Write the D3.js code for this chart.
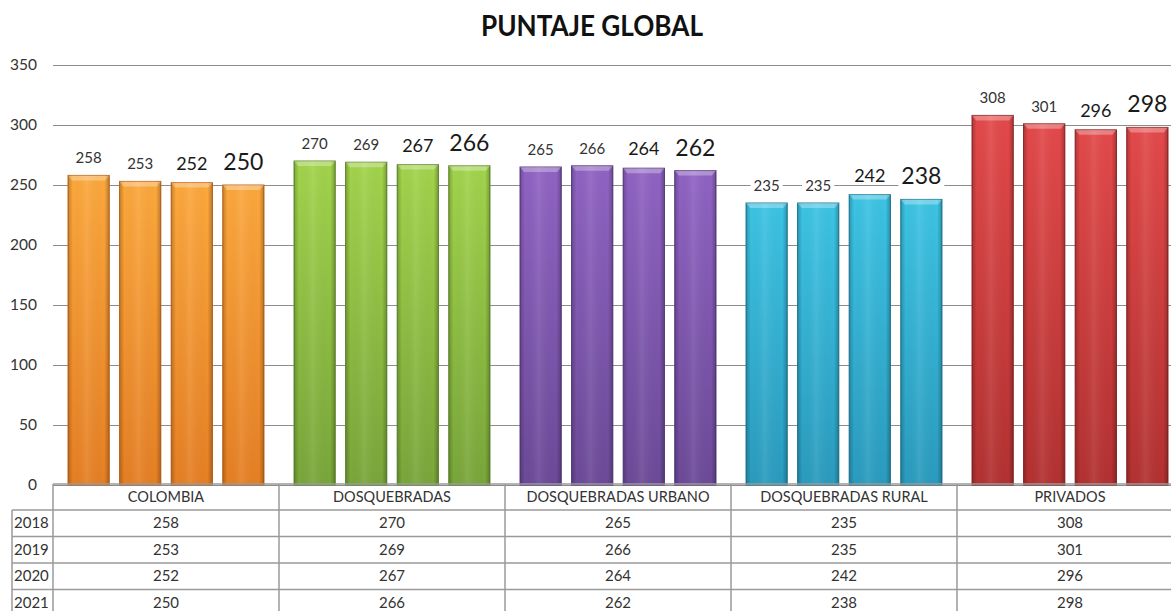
<!DOCTYPE html>
<html>
<head>
  <meta charset="utf-8">
  <title>Puntaje Global</title>
  <style>
    body { margin: 0; background: #fff; }
    svg { display: block; font-family: Lato, "Open Sans", sans-serif; }
  </style>
</head>
<body>
  <div class="area"></div>

  <script src="https://cdn.jsdelivr.net/npm/d3@7"></script>
  <script type="text/javascript">

  var w = 1171, h = 611;

  // data
  var categories = ['COLOMBIA', 'DOSQUEBRADAS', 'DOSQUEBRADAS URBANO', 'DOSQUEBRADAS RURAL', 'PRIVADOS'];
  var years = ['2018', '2019', '2020', '2021'];
  var colombia      = [258, 253, 252, 250];
  var dosquebradas  = [270, 269, 267, 266];
  var dosqUrbano    = [265, 266, 264, 262];
  var dosqRural     = [235, 235, 242, 238];
  var privados      = [308, 301, 296, 298];
  var yTicks = [0, 50, 100, 150, 200, 250, 300, 350];

  var series = [colombia, dosquebradas, dosqUrbano, dosqRural, privados];

  // colour per category: top, bottom, edge
  var colors = [
    ['#fca83c', '#e67f24', '#c76a1b'],
    ['#a2d44b', '#79a63a', '#67902f'],
    ['#9063c4', '#6c4a98', '#5a3e82'],
    ['#3cc4e4', '#2a9bbe', '#22819e'],
    ['#e4494a', '#b33131', '#932727']
  ];

  // label sizes grow with the year, as in the original
  var labelSize = [15, 15, 18, 23];
  var labelGap  = [12, 12, 13, 15];

  var svg = d3.select('.area')
    .append('svg')
    .attr('width', w)
    .attr('height', h);

  var left = 53, bandW = 226;
  var y = d3.scaleLinear().domain([0, 350]).range([485, 65]);
  var x0 = d3.scaleBand().domain(categories).range([left, left + bandW * categories.length]);
  var x1 = d3.scaleBand().domain(years).range([15, 211]).paddingInner(0.2);

  // gradients
  var defs = svg.append('defs');
  colors.forEach(function(c, i){
    var g = defs.append('linearGradient').attr('id', 'v' + i)
      .attr('x1', 0).attr('y1', 0).attr('x2', 0).attr('y2', 1);
    g.append('stop').attr('offset', '0%').attr('stop-color', c[0]);
    g.append('stop').attr('offset', '100%').attr('stop-color', c[1]);
  });
  var sh = defs.append('linearGradient').attr('id', 'shade')
    .attr('x1', 0).attr('y1', 0).attr('x2', 1).attr('y2', 0);
  sh.append('stop').attr('offset', '0%').attr('stop-color', '#000').attr('stop-opacity', 0.22);
  sh.append('stop').attr('offset', '12%').attr('stop-color', '#000').attr('stop-opacity', 0.0);
  sh.append('stop').attr('offset', '45%').attr('stop-color', '#fff').attr('stop-opacity', 0.08);
  sh.append('stop').attr('offset', '88%').attr('stop-color', '#000').attr('stop-opacity', 0.0);
  sh.append('stop').attr('offset', '100%').attr('stop-color', '#000').attr('stop-opacity', 0.25);

  // title
  svg.append('text')
    .attr('x', 592).attr('y', 36)
    .attr('text-anchor', 'middle')
    .attr('font-size', 28).attr('font-weight', 'bold')
    .attr('textLength', 222).attr('lengthAdjust', 'spacingAndGlyphs')
    .attr('fill', '#111')
    .text('PUNTAJE GLOBAL');

  // grid + y axis
  var yAxis = d3.axisLeft(y).tickValues(yTicks).tickSize(-(w - left)).tickPadding(16);
  var ga = svg.append('g').attr('transform', 'translate(' + left + ',0)').call(yAxis);
  ga.select('.domain').remove();
  ga.selectAll('.tick line').attr('stroke', '#8c8c8c').attr('stroke-width', 1.2);
  ga.selectAll('.tick text').attr('fill', '#333').attr('font-size', 15.5)
    .attr('font-family', 'Lato, sans-serif');

  // bars
  var groups = svg.selectAll('g.cat')
    .data(categories)
    .enter().append('g')
    .attr('class', 'cat')
    .attr('transform', function(d){ return 'translate(' + x0(d) + ',0)'; });

  groups.each(function(cat, ci){
    var g = d3.select(this);
    var vals = series[ci];
    var bw = x1.bandwidth();

    vals.forEach(function(v, yi){
      var bx = x1(years[yi]), by = y(v), bh = y(0) - y(v);
      g.append('rect').attr('x', bx).attr('y', by).attr('width', bw).attr('height', bh)
        .attr('fill', 'url(#v' + ci + ')').attr('stroke', colors[ci][2]).attr('stroke-width', 1);
      g.append('rect').attr('x', bx).attr('y', by).attr('width', bw).attr('height', bh)
        .attr('fill', 'url(#shade)');
      // bevel cap on top
      g.append('path')
        .attr('d', 'M' + bx + ',' + by + 'L' + (bx + bw) + ',' + by +
          'L' + (bx + bw - 4) + ',' + (by + 5) + 'L' + (bx + 4) + ',' + (by + 5) + 'Z')
        .attr('fill', '#fff').attr('fill-opacity', 0.3);
    });

    // value labels with white background
    vals.forEach(function(v, yi){
      var lx = x1(years[yi]) + bw / 2, ly = y(v) - labelGap[yi];
      var bg = g.append('rect').attr('fill', '#fff');
      var t = g.append('text')
        .attr('x', lx).attr('y', ly)
        .attr('text-anchor', 'middle')
        .attr('font-size', labelSize[yi])
        .attr('fill', yi < 2 ? '#333' : '#1a1a1a')
        .text(v);
      var b = t.node().getBBox();
      bg.attr('x', b.x - 3).attr('y', b.y + 2).attr('width', b.width + 6).attr('height', b.height - 3);
    });
  });

  // data table
  var tTop = 484, headH = 26, rowH = 26.5;
  var tb = svg.append('g').attr('class', 'table');
  var lineC = '#9a9a9a';

  // horizontal lines
  tb.append('line').attr('x1', left).attr('x2', w).attr('y1', tTop).attr('y2', tTop)
    .attr('stroke', lineC).attr('stroke-width', 1.5);
  years.forEach(function(yr, i){
    var yy = tTop + headH + i * rowH;
    tb.append('line').attr('x1', 12).attr('x2', w).attr('y1', yy).attr('y2', yy)
      .attr('stroke', lineC).attr('stroke-width', 1.5);
  });
  // vertical lines
  tb.append('line').attr('x1', 12).attr('x2', 12).attr('y1', tTop + headH).attr('y2', h)
    .attr('stroke', lineC).attr('stroke-width', 1.5);
  categories.forEach(function(c){
    tb.append('line').attr('x1', x0(c)).attr('x2', x0(c)).attr('y1', tTop).attr('y2', h)
      .attr('stroke', lineC).attr('stroke-width', 1.5);
  });

  // header text
  tb.selectAll('text.head')
    .data(categories)
    .enter().append('text')
    .attr('class', 'head')
    .attr('x', function(d){ return x0(d) + bandW / 2; })
    .attr('y', tTop + headH / 2 + 5)
    .attr('text-anchor', 'middle')
    .attr('font-size', 14.5).attr('fill', '#333')
    .text(function(d){ return d; });

  // rows
  years.forEach(function(yr, i){
    var cy = tTop + headH + i * rowH + rowH / 2 + 5;
    tb.append('text').attr('x', 14).attr('y', cy)
      .attr('font-size', 15).attr('fill', '#333').text(yr);
    categories.forEach(function(c, ci){
      tb.append('text').attr('x', x0(c) + bandW / 2).attr('y', cy)
        .attr('text-anchor', 'middle')
        .attr('font-size', 15).attr('fill', '#333')
        .text(series[ci][i]);
    });
  });

  </script>
</body>
</html>
